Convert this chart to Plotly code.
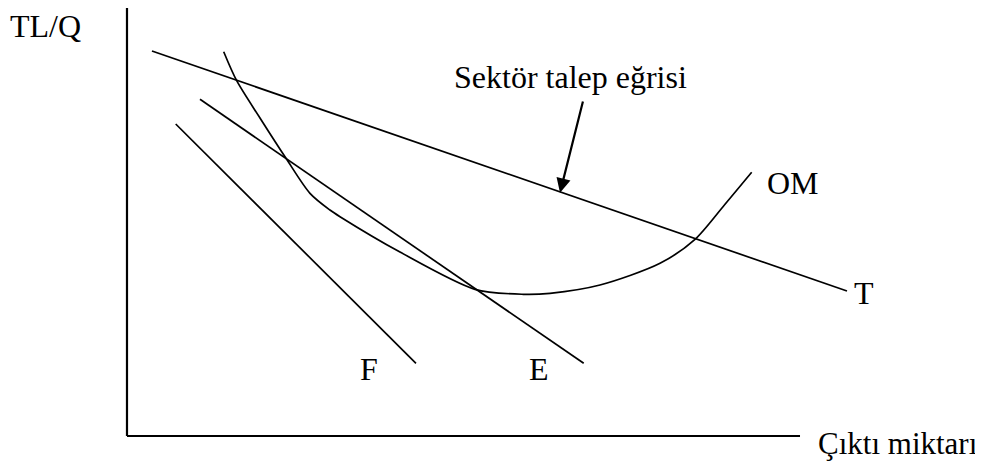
import plotly.graph_objects as go

# Diagram data (quantity Q on x, price TL/Q on y; axes run 0..100)
t_q = [3.71, 106.98]
t_p = [88.91, 33.49]

f_q = [7.24, 42.94]
f_p = [72.06, 16.79]

e_q = [10.85, 67.86]
e_p = [77.76, 16.79]

om_q = [14.37, 16.30, 19.76, 23.63, 27.19, 30.16, 31.65, 40.56, 51.71, 58.89, 62.85, 70.28, 79.20, 84.40, 88.56, 92.82]
om_p = [88.75, 82.06, 73.44, 64.13, 56.05, 52.19, 50.65, 42.49, 33.88, 32.73, 32.96, 34.87, 39.88, 45.43, 52.96, 60.90]

axis_max = 100

labels = ["TL/Q", "Sektör talep eğrisi", "OM", "T", "F", "E"]
label_q = [-12.18, 65.97, 98.96, 109.5, 35.96, 61.22]
label_p = [94.6, 83.0, 58.4, 33.0, 15.5, 15.5]

x_title = "Çıktı miktarı"
x_title_q = 126.6
x_title_p = -1.8

arrow_tail = (67.80, 77.60)
arrow_tip = (64.34, 56.19)

FONT = "Liberation Serif, Times New Roman, serif"
line_style = dict(color="black", width=1.7)

fig = go.Figure()
fig.add_trace(go.Scatter(x=t_q, y=t_p, mode="lines", line=line_style))
fig.add_trace(go.Scatter(x=f_q, y=f_p, mode="lines", line=line_style))
fig.add_trace(go.Scatter(x=e_q, y=e_p, mode="lines", line=line_style))
fig.add_trace(go.Scatter(x=om_q, y=om_p, mode="lines",
                         line=dict(color="black", width=1.7, shape="spline", smoothing=0.8)))

# axes
fig.add_shape(type="line", x0=0, y0=0, x1=0, y1=axis_max, xref="x", yref="y",
              line=dict(color="black", width=2.2))
fig.add_shape(type="line", x0=0, y0=0, x1=axis_max, y1=0, xref="x", yref="y",
              line=dict(color="black", width=2.2))

for txt, q, p in zip(labels, label_q, label_p):
    fig.add_annotation(x=q, y=p, text=txt, showarrow=False, xref="x", yref="y",
                       font=dict(family=FONT, size=32, color="black"))

fig.add_annotation(x=x_title_q, y=x_title_p, text=x_title, showarrow=False,
                   xref="x", yref="y", xanchor="right", borderpad=0,
                   font=dict(family=FONT, size=31, color="black"))

fig.add_annotation(x=arrow_tip[0], y=arrow_tip[1], ax=arrow_tail[0], ay=arrow_tail[1],
                   xref="x", yref="y", axref="x", ayref="y", text="", showarrow=True,
                   arrowhead=2, arrowsize=1.3, arrowwidth=2.2, arrowcolor="black")

# page body has an 8px margin, so the figure is 8px smaller than the window
fig.update_layout(
    width=975, height=453,
    margin=dict(l=0, r=0, t=0, b=0),
    paper_bgcolor="white", plot_bgcolor="white",
    showlegend=False,
    xaxis=dict(range=[-17.68, 127.19], visible=False, fixedrange=True),
    yaxis=dict(range=[-5.77, 98.85], visible=False, fixedrange=True),
)

fig.write_html("out.html")
